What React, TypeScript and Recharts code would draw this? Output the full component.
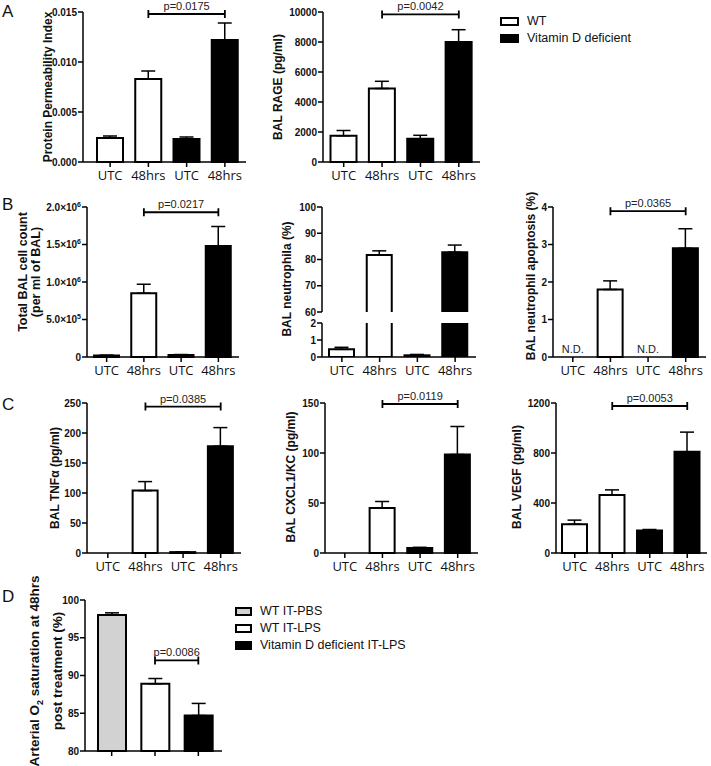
import React from 'react';
import { BarChart, Bar, XAxis, YAxis, Cell, ErrorBar, ReferenceLine, ReferenceDot } from 'recharts';

const SANS = '"Liberation Sans", Arial, sans-serif';
const CAT_FONT = '"Open Sans", sans-serif';

// groups of the 4-bar panels
const groups = ['wt_utc', 'wt_48', 'vd_utc', 'vd_48'];
const groupLabels = ['UTC', '48hrs', 'UTC', '48hrs'];
const groupVitD = [false, false, true, true];

// A: protein permeability index
const ppiMean = [0.0024, 0.0083, 0.0023, 0.0122];
const ppiSem = [0.0002, 0.0008, 0.0002, 0.0017];
const ppiTicks = [0, 0.005, 0.01, 0.015];
const ppiP = { label: 'p=0.0175', at: 0.0148 };

// A: BAL RAGE
const rageMean = [1750, 4900, 1550, 8000];
const rageSem = [350, 480, 230, 820];
const rageTicks = [0, 2000, 4000, 6000, 8000, 10000];
const rageP = { label: 'p=0.0042', at: 9840 };

// B: total BAL cell count
const cellMean = [20000, 850000, 28000, 1480000];
const cellSem = [4000, 120000, 5000, 260000];
const cellTicks = [0, 500000, 1000000, 1500000, 2000000];
const cellP = { label: 'p=0.0217', at: 1930000 };

// B: neutrophilia (broken axis)
const neutMean = [0.45, 81.7, 0.1, 82.8];
const neutSem = [0.12, 1.6, 0.05, 2.7];
const neutTicksHigh = [60, 70, 80, 90, 100];
const neutTicksLow = [0, 1, 2];

// B: neutrophil apoptosis (N.D. = not detected)
const apopMean = [0, 1.8, 0, 2.9];
const apopSem = [0, 0.23, 0, 0.52];
const apopNd = [true, false, true, false];
const apopTicks = [0, 1, 2, 3, 4];
const apopP = { label: 'p=0.0365', at: 3.89 };

// C: cytokines
const tnfMean = [0, 104, 1.5, 178];
const tnfSem = [0, 15, 0, 31];
const tnfTicks = [0, 50, 100, 150, 200, 250];
const tnfP = { label: 'p=0.0385', at: 244 };

const kcMean = [0, 45, 5, 98.5];
const kcSem = [0, 6.5, 0.7, 28];
const kcTicks = [0, 50, 100, 150];
const kcP = { label: 'p=0.0119', at: 149 };

const vegfMean = [230, 465, 180, 810];
const vegfSem = [33, 40, 8, 157];
const vegfTicks = [0, 400, 800, 1200];
const vegfP = { label: 'p=0.0053', at: 1176 };

// D: arterial O2 saturation
const o2Groups = ['WT IT-PBS', 'WT IT-LPS', 'Vitamin D deficient IT-LPS'];
const o2Mean = [98.0, 88.9, 84.7];
const o2Sem = [0.3, 0.7, 1.6];
const o2Ticks = [80, 85, 90, 95, 100];
const o2P = { label: 'p=0.0086', at: 92 };

const fourFills = groupVitD.map((v) => (v ? '#000000' : '#ffffff'));
const o2Fills = ['#d2d2d2', '#ffffff', '#000000'];

const rows4 = (mean: number[], sem: number[]) =>
  groups.map((g, i) => ({ g, mean: mean[i], err: [0, sem[i]] }));

const tickStyle = { fontSize: 10, fontWeight: 700, fill: '#111', fontFamily: SANS };

function BracketShape(props: any) {
  const { x1, y1, x2, text } = props;
  const c = 4;
  return (
    <g>
      <path
        d={`M${x1},${y1 - c}V${y1 + c}M${x1},${y1}H${x2}M${x2},${y1 - c}V${y1 + c}`}
        stroke="#000"
        strokeWidth={1.8}
        fill="none"
      />
      <text x={(x1 + x2) / 2} y={y1 - 4} textAnchor="middle" fontSize={11} fontFamily={SANS} fill="#222">
        {text}
      </text>
    </g>
  );
}

// bar cut by the axis break: no bottom edge
function OpenBar(props: any) {
  const { x, y, width, height, fill } = props;
  if (!width || !height || height < 0) return <g />;
  return (
    <g>
      <rect x={x} y={y} width={width} height={height} fill={fill} />
      <path d={`M${x},${y + height}V${y}H${x + width}V${y + height}`} stroke="#000" strokeWidth={2} fill="none" />
    </g>
  );
}

function SciTick(props: any) {
  const { x, y, payload } = props;
  const v = payload.value;
  if (v === 0)
    return (
      <text x={x} y={y} dy="0.355em" textAnchor="end" {...tickStyle}>
        0
      </text>
    );
  const e = Math.floor(Math.log10(v));
  const m = (v / Math.pow(10, e)).toFixed(1);
  return (
    <text x={x} y={y} dy="0.355em" textAnchor="end" {...tickStyle}>
      {m}×10<tspan dy={-4} fontSize={7}>{e}</tspan>
    </text>
  );
}

type PanelProps = {
  axisX: number;
  top: number;
  bottom: number;
  right: number;
  padL: number;
  padR: number;
  rows: any[];
  labels?: string[];
  fills: string[];
  domain: [number, number];
  ticks: number[];
  fmt?: (v: number) => string;
  tick?: any;
  bracket?: { label: string; at: number; from: string; to: string };
  barSize: number;
  hideX?: boolean;
  noTickText?: boolean;
  clip?: boolean;
  openBars?: boolean;
  nd?: boolean[];
};

function Panel(p: PanelProps) {
  const MT = 16;
  const YW = 50;
  const MR = 4;
  const XH = p.hideX ? 0 : 30;
  const MB = p.hideX ? 8 : 0;
  const plotH = p.bottom - p.top;
  const width = YW + (p.right - p.axisX) + MR;
  const height = MT + plotH + XH + MB;
  const labels = p.labels ?? groupLabels;
  const cats = p.rows.map((r) => r.g);
  const lo = p.domain[0];
  return (
    <div style={{ position: 'absolute', left: p.axisX - YW, top: p.top - MT }}>
      <BarChart width={width} height={height} data={p.rows} margin={{ top: MT, right: MR, left: 0, bottom: MB }}>
        <XAxis
          dataKey="g"
          type="category"
          hide={p.hideX}
          height={XH || undefined}
          padding={{ left: p.padL, right: p.padR }}
          interval={0}
          tickSize={5}
          tickMargin={4}
          axisLine={{ stroke: '#000', strokeWidth: 1.5 }}
          tickLine={{ stroke: '#000', strokeWidth: 1.5 }}
          tick={{ fontSize: 13, fill: '#111', fontFamily: CAT_FONT }}
          tickFormatter={(g: string) => (p.noTickText ? '' : labels[cats.indexOf(g)])}
        />
        <YAxis
          type="number"
          width={YW}
          domain={p.domain}
          ticks={p.ticks}
          allowDataOverflow={!!p.clip}
          interval={0}
          tickSize={5}
          tickMargin={1}
          axisLine={{ stroke: '#000', strokeWidth: 1.5 }}
          tickLine={{ stroke: '#000', strokeWidth: 1.5 }}
          tick={p.tick ?? tickStyle}
          tickFormatter={p.fmt}
        />
        <Bar
          dataKey="mean"
          barSize={p.barSize}
          isAnimationActive={false}
          stroke="#000"
          strokeWidth={2}
          shape={
            p.openBars
              ? (sp: any) => (sp.payload && sp.payload.mean > lo ? <OpenBar {...sp} /> : <g />)
              : undefined
          }
        >
          {p.rows.map((r, i) => (
            <Cell key={r.g} fill={p.fills[i]} />
          ))}
          <ErrorBar dataKey="err" width={7} stroke="#000" strokeWidth={1.5} direction="y" />
        </Bar>
        {p.nd &&
          p.rows.map((r, i) =>
            p.nd![i] ? (
              <ReferenceDot
                key={`nd-${r.g}`}
                x={r.g}
                y={lo}
                r={1}
                ifOverflow="visible"
                shape={(sp: any) => (
                  <text x={sp.cx} y={sp.cy - 4} textAnchor="middle" fontSize={11} fontFamily={SANS} fill="#222">
                    N.D.
                  </text>
                )}
              />
            ) : null,
          )}
        {p.bracket && (
          <ReferenceLine
            segment={[
              { x: p.bracket.from, y: p.bracket.at },
              { x: p.bracket.to, y: p.bracket.at },
            ]}
            ifOverflow="visible"
            shape={(sp: any) => <BracketShape {...sp} text={p.bracket!.label} />}
          />
        )}
      </BarChart>
    </div>
  );
}

function VTitle({ cx, cy, size = 12, lh, children }: any) {
  return (
    <div
      style={{
        position: 'absolute',
        left: cx,
        top: cy,
        transform: 'translate(-50%,-50%) rotate(-90deg)',
        whiteSpace: 'nowrap',
        fontFamily: SANS,
        fontWeight: 700,
        fontSize: size,
        lineHeight: `${lh ?? size + 2}px`,
        textAlign: 'center',
        color: '#111',
      }}
    >
      {children}
    </div>
  );
}

function Letter({ x, y, children }: any) {
  return (
    <div style={{ position: 'absolute', left: x, top: y, fontFamily: SANS, fontSize: 17, lineHeight: 1, color: '#111' }}>
      {children}
    </div>
  );
}

function LegendRow({ x, y, tx, w, h, fill, text }: any) {
  return (
    <>
      <div
        style={{
          position: 'absolute',
          left: x,
          top: y - h / 2,
          width: w,
          height: h,
          boxSizing: 'border-box',
          border: '2px solid #000',
          background: fill,
        }}
      />
      <div
        style={{
          position: 'absolute',
          left: tx,
          top: y - 7,
          lineHeight: '14px',
          fontFamily: SANS,
          fontSize: 12.5,
          color: '#111',
          whiteSpace: 'nowrap',
        }}
      >
        {text}
      </div>
    </>
  );
}

const br = (b: { label: string; at: number }) => ({ ...b, from: 'wt_48', to: 'vd_48' });

export default function App() {
  const o2Rows = o2Groups.map((g, i) => ({ g, mean: o2Mean[i], err: [0, o2Sem[i]] }));
  return (
    <div style={{ position: 'absolute', left: 0, top: 0, width: 711, height: 766, background: '#fff', overflow: 'hidden' }}>
      {/* A */}
      <Panel axisX={83} top={12} bottom={162} right={246} padL={8} padR={2} barSize={26}
        rows={rows4(ppiMean, ppiSem)} fills={fourFills} domain={[0, 0.015]} ticks={ppiTicks}
        fmt={(v) => v.toFixed(3)} bracket={br(ppiP)} />
      <Panel axisX={323} top={12} bottom={162} right={480} padL={1.5} padR={2} barSize={26}
        rows={rows4(rageMean, rageSem)} fills={fourFills} domain={[0, 10000]} ticks={rageTicks}
        bracket={br(rageP)} />

      {/* B */}
      <Panel axisX={87} top={207} bottom={357} right={239} padL={1} padR={2} barSize={25}
        rows={rows4(cellMean, cellSem)} fills={fourFills} domain={[0, 2000000]} ticks={cellTicks}
        tick={<SciTick />} bracket={br(cellP)} />
      <Panel axisX={322} top={207} bottom={312} right={476} padL={1} padR={2} barSize={25}
        rows={rows4(neutMean, neutSem)} fills={fourFills} domain={[60, 100]} ticks={neutTicksHigh}
        hideX clip openBars />
      <Panel axisX={322} top={323} bottom={357} right={476} padL={1} padR={2} barSize={25}
        rows={rows4(neutMean, neutSem)} fills={fourFills} domain={[0, 2]} ticks={neutTicksLow} clip />
      <Panel axisX={553} top={207} bottom={357} right={706} padL={1} padR={1.5} barSize={25}
        rows={rows4(apopMean, apopSem)} fills={fourFills} domain={[0, 4]} ticks={apopTicks}
        bracket={br(apopP)} nd={apopNd} />

      {/* C */}
      <Panel axisX={87} top={403} bottom={553} right={241} padL={2} padR={1.5} barSize={25}
        rows={rows4(tnfMean, tnfSem)} fills={fourFills} domain={[0, 250]} ticks={tnfTicks}
        bracket={br(tnfP)} />
      <Panel axisX={325} top={403} bottom={553} right={478} padL={1} padR={1.5} barSize={25}
        rows={rows4(kcMean, kcSem)} fills={fourFills} domain={[0, 150]} ticks={kcTicks}
        bracket={br(kcP)} />
      <Panel axisX={556} top={403} bottom={553} right={707} padL={0} padR={1} barSize={25}
        rows={rows4(vegfMean, vegfSem)} fills={fourFills} domain={[0, 1200]} ticks={vegfTicks}
        bracket={br(vegfP)} />

      {/* D */}
      <Panel axisX={85} top={600} bottom={751} right={222} padL={5} padR={2} barSize={28}
        rows={o2Rows} labels={o2Groups} fills={o2Fills} domain={[80, 100]} ticks={o2Ticks}
        noTickText bracket={{ ...o2P, from: o2Groups[1], to: o2Groups[2] }} />

      {/* axis titles */}
      <VTitle cx={47.5} cy={87}>Protein Permeability Index</VTitle>
      <VTitle cx={278} cy={87}>BAL RAGE (pg/ml)</VTitle>
      <VTitle cx={30} cy={272} size={12.5} lh={13}>
        Total BAL cell count
        <br />
        (per ml of BAL)
      </VTitle>
      <VTitle cx={287} cy={279}>BAL neutrophila (%)</VTitle>
      <VTitle cx={531} cy={276}>BAL neutrophil apoptosis (%)</VTitle>
      <VTitle cx={55} cy={478}>BAL TNFα (pg/ml)</VTitle>
      <VTitle cx={291} cy={477}>BAL CXCL1/KC (pg/ml)</VTitle>
      <VTitle cx={517} cy={477}>BAL VEGF (pg/ml)</VTitle>
      <VTitle cx={46} cy={671} size={13.5} lh={17}>
        Arterial O<sub style={{ fontSize: 9 }}>2</sub> saturation at 48hrs
        <br />
        post treatment (%)
      </VTitle>

      {/* panel letters */}
      <Letter x={2} y={3}>A</Letter>
      <Letter x={2} y={196}>B</Letter>
      <Letter x={2} y={396}>C</Letter>
      <Letter x={2} y={588}>D</Letter>

      {/* legends */}
      <LegendRow x={500} y={21} tx={527} w={19} h={9} fill="#fff" text="WT" />
      <LegendRow x={500} y={38} tx={527} w={19} h={9} fill="#000" text="Vitamin D deficient" />
      {o2Groups.map((g, i) => (
        <LegendRow key={g} x={235} y={611 + i * 17} tx={260} w={17} h={9} fill={o2Fills[i]} text={g} />
      ))}
    </div>
  );
}
